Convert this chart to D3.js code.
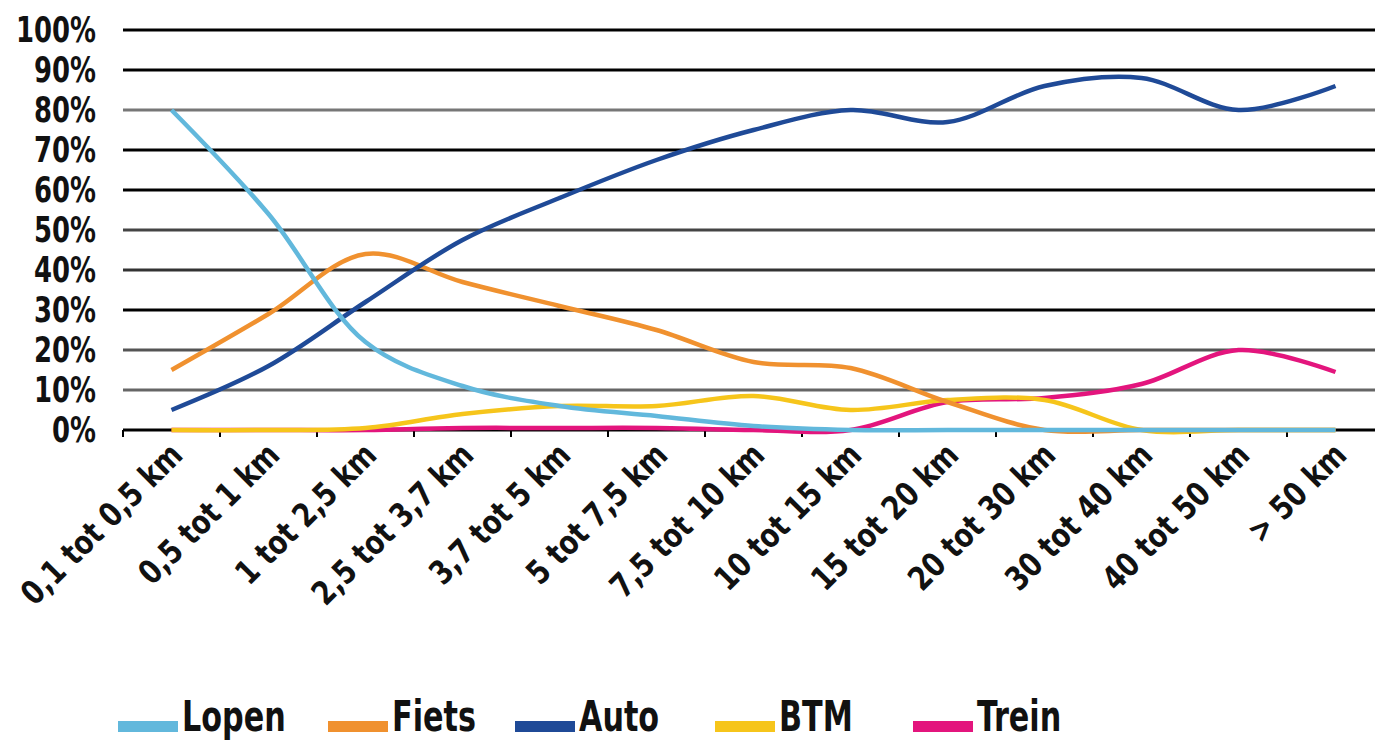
<!DOCTYPE html>
<html>
<head>
<meta charset="utf-8">
<script src="https://cdn.jsdelivr.net/npm/d3@7"></script>
<style>
  html, body { margin: 0; padding: 0; background: #fff; }
  svg { display: block; }
  text { font-family: "DejaVu Sans Condensed", "DejaVu Sans", sans-serif; font-stretch: condensed; fill: #111; }
</style>
</head>
<body>
<svg id="chart" width="1375" height="740"></svg>
<script>
// Distance classes (x axis)
const categories = ["0,1 tot 0,5 km", "0,5 tot 1 km", "1 tot 2,5 km", "2,5 tot 3,7 km", "3,7 tot 5 km",
  "5 tot 7,5 km", "7,5 tot 10 km", "10 tot 15 km", "15 tot 20 km", "20 tot 30 km",
  "30 tot 40 km", "40 tot 50 km", "> 50 km"];

// Modal share per distance class (%)
const lopen = [80, 54, 22, 11, 6, 3.5, 1, 0, 0, 0, 0, 0, 0];
const fiets = [15, 29, 44, 37, 31, 25, 17, 15.5, 7, 0, 0, 0, 0];
const auto  = [5, 16, 32, 47.5, 58, 67.5, 75, 80, 77, 86, 88, 80, 86];
const btm   = [0, 0, 0.5, 4, 6, 6, 8.5, 5, 7.5, 7.5, 0, 0, 0];
const trein = [0, 0, 0, 0.5, 0.5, 0.5, 0, 0, 7, 8, 11.5, 20, 14.5];

const yTicks = [0, 10, 20, 30, 40, 50, 60, 70, 80, 90, 100];
const seriesNames = ["Lopen", "Fiets", "Auto", "BTM", "Trein"];

// Styling
const colors = { Lopen: "#62b8dc", Fiets: "#f0912f", Auto: "#1f4a97", BTM: "#f6c51b", Trein: "#e3157d" };
const gridTone = { 0: "#000", 10: "#666", 20: "#555", 30: "#000", 40: "#333", 50: "#444",
                   60: "#000", 70: "#000", 80: "#777", 90: "#000", 100: "#000" };

const series = [
  { name: "Lopen", values: lopen },
  { name: "Fiets", values: fiets },
  { name: "Auto",  values: auto },
  { name: "BTM",   values: btm },
  { name: "Trein", values: trein }
];

const svg = d3.select("#chart");

const x = d3.scaleBand().domain(categories).range([123, 1384]).padding(0);
const y = d3.scaleLinear().domain([0, 100]).range([430, 30]);
const cx = c => x(c) + x.bandwidth() / 2;

// Horizontal gridlines
svg.append("g").selectAll("line")
  .data(yTicks)
  .join("line")
  .attr("x1", 123).attr("x2", 1375)
  .attr("y1", d => y(d)).attr("y2", d => y(d))
  .attr("stroke", d => gridTone[d])
  .attr("stroke-width", 3);

// Y axis labels (narrowed horizontally)
svg.append("g").selectAll("text")
  .data(yTicks)
  .join("text")
  .attr("transform", d => `translate(96,${y(d)}) scale(0.8,1)`)
  .attr("dy", "0.34em")
  .attr("text-anchor", "end")
  .attr("font-size", 36)
  .attr("font-weight", "bold")
  .text(d => d + "%");

// Small ticks at the category boundaries below the baseline
const bounds = categories.map(c => x(c));
svg.append("g").selectAll("line")
  .data(bounds)
  .join("line")
  .attr("x1", d => d).attr("x2", d => d)
  .attr("y1", 430).attr("y2", 437)
  .attr("stroke", "#000")
  .attr("stroke-width", 2);

// X axis labels, rotated
svg.append("g").selectAll("text")
  .data(categories)
  .join("text")
  .attr("transform", c => `translate(${cx(c) + 13},457) rotate(-45) scale(0.9,1)`)
  .attr("text-anchor", "end")
  .attr("font-size", 33)
  .attr("font-weight", "bold")
  .text(c => c);

// Series lines
const line = d3.line()
  .x((d, i) => cx(categories[i]))
  .y(d => y(d))
  .curve(d3.curveCatmullRom.alpha(0.5));

const drawOrder = ["Trein", "BTM", "Fiets", "Auto", "Lopen"];
svg.append("g").selectAll("path")
  .data(drawOrder.map(n => series.find(s => s.name === n)))
  .join("path")
  .attr("d", s => line(s.values))
  .attr("fill", "none")
  .attr("stroke", s => colors[s.name])
  .attr("stroke-width", 4.5)
  .attr("stroke-linejoin", "round");

// Legend
const legendX = [118, 328, 515, 715, 913];
const legend = svg.append("g").selectAll("g")
  .data(seriesNames)
  .join("g")
  .attr("transform", (d, i) => `translate(${legendX[i]},0)`);
legend.append("rect")
  .attr("x", 0).attr("y", 721)
  .attr("width", 60).attr("height", 11)
  .attr("fill", d => colors[d]);
legend.append("text")
  .attr("transform", "translate(64,731) scale(0.8,1)")
  .attr("font-size", 42)
  .attr("font-weight", "bold")
  .text(d => d);
</script>
</body>
</html>
